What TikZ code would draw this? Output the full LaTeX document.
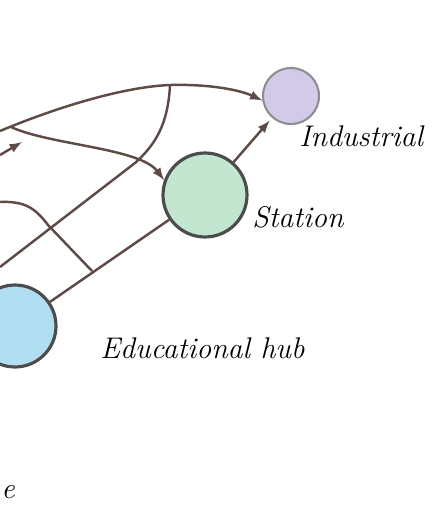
\documentclass[tikz,border=0pt]{standalone}
\usepackage{tikz}
\usetikzlibrary{arrows.meta}
\tikzset{>=latex}
\definecolor{linkcol}{HTML}{5E4A46}
\definecolor{indcol}{HTML}{D2CAE8}
\definecolor{stacol}{HTML}{C3E6D0}
\definecolor{educol}{HTML}{B2DEF2}
\tikzset{place/.style = {shape=circle,draw=black!70,line width=1.8pt,inner sep=0pt}}
\tikzset{link/.style = {draw=linkcol,line width=1.4pt}}
\tikzset{tag/.style = {inner sep=0pt,anchor=base west,font=\fontsize{17}{20}\selectfont\itshape}}

\begin{document}
\begin{tikzpicture}[x=0.02cm,y=-0.02cm]
    \useasboundingbox (0,0) rectangle (433,509);

    \node[place,fill=indcol,draw=indcol!45!black!70,line width=1.2pt,minimum size=1.12cm] (ind) at (291,96) {};
    \node[place,fill=stacol,minimum size=1.68cm] (sta) at (205,195) {};
    \node[place,fill=educol,minimum size=1.64cm] (edu) at (15,326) {};

    \node[tag] (indtag) at (299,147) {Industrial};
    \node[tag] (statag) at (252,228) {Station};
    \node[tag] (edutag) at (100,358) {Educational hub};
    \node[tag] (cuttag) at (1,498) {e};

    \coordinate (w1) at (0,131);
    \coordinate (br) at (11,127);
    \coordinate (top) at (170,85);
    \coordinate (w3) at (0,267);
    \coordinate (w4) at (0,202);
    \coordinate (j5) at (92,271);
    \coordinate (w6) at (0,155);
    \coordinate (t6) at (22,142);

    \draw[link,->] (w1) .. controls (50,110) and (120,87) .. (top)
                        .. controls (210,84) and (240,90) .. (ind.189);
    \draw[link,->] (br) .. controls (50,145) and (140,148) .. (sta.160);
    \draw[link] (top) .. controls (168,125) and (155,145) .. (135,163) -- (w3);
    \draw[link] (w4) .. controls (25,201) and (35,208) .. (48,225) -- (j5);
    \draw[link] (edu) -- (sta);
    \draw[link,->,shorten >=2pt] (sta) -- (ind);
    \draw[link,->] (w6) -- (t6);
\end{tikzpicture}
\end{document}
